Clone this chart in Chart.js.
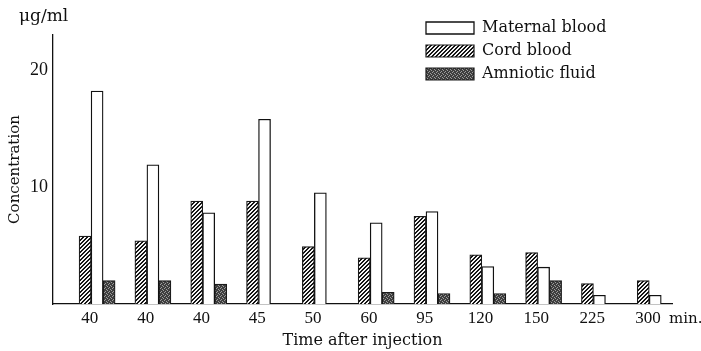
<!DOCTYPE html>
<html>
<head>
<meta charset="utf-8">
<script src="https://cdn.jsdelivr.net/npm/chart.js@4.4.1/dist/chart.umd.min.js"></script>
<style>
  html, body { margin: 0; padding: 0; background: #fff; }
</style>
</head>
<body>
<canvas id="barChart" width="701" height="351"></canvas>
<script>
// values, in µg/ml
const times = ['40', '40', '40', '45', '50', '60', '95', '120', '150', '225', '300'];
const cordBlood = [5.8, 5.4, 8.8, 8.8, 4.9, 3.95, 7.5, 4.2, 4.4, 1.75, 2.0];
const maternalBlood = [18.2, 11.9, 7.8, 15.8, 9.5, 6.95, 7.9, 3.2, 3.15, 0.75, 0.75];
const amnioticFluid = [2.0, 2.0, 1.7, null, null, 1.0, 0.9, 0.9, 2.0, null, null];
const yTicks = [10, 20];
const legendOrder = ['Maternal blood', 'Cord blood', 'Amniotic fluid'];

Chart.defaults.font.family = '"DejaVu Serif", serif';
Chart.defaults.color = '#111';

// small repeating tiles to imitate the printed hatching
function makePattern(size, bg, fg, pixels) {
    const c = document.createElement('canvas');
    c.width = size;
    c.height = size;
    const g = c.getContext('2d');
    g.fillStyle = bg;
    g.fillRect(0, 0, size, size);
    g.fillStyle = fg;
    pixels.forEach(([x, y]) => g.fillRect(x, y, 1, 1));
    return g.createPattern(c, 'repeat');
}

const hatch = makePattern(4, '#f4f4f4', '#151515',
    [[0, 3], [0, 0], [1, 2], [1, 3], [2, 1], [2, 2], [3, 0], [3, 1]]);
const speckle = makePattern(4, '#3e3e3e', '#9c9c9c',
    [[0, 0], [2, 1], [1, 3], [3, 2]]);

const toPoints = (arr) => arr.map((v, i) => ({ x: i, y: v }));

// extra labels + moves the vertical legend into the upper right corner
const extraText = {
    id: 'extraText',
    beforeDraw(chart) {
        const lg = chart.legend;
        const area = chart.chartArea;
        const w = lg.width, h = lg.height;
        lg.left = area.right - 253;
        lg.right = lg.left + w;
        lg.top = area.top - 22;
        lg.bottom = lg.top + h;
    },
    afterDraw(chart) {
        const { ctx, chartArea } = chart;
        ctx.save();
        ctx.fillStyle = '#111';
        ctx.textAlign = 'left';
        ctx.textBaseline = 'middle';
        ctx.font = '17px "DejaVu Serif"';
        ctx.fillText('μg/ml', chartArea.left - 34, chartArea.top - 18);
        ctx.font = '15px "DejaVu Serif"';
        ctx.fillText('min.', chartArea.right - 3, chartArea.bottom + 15);
        ctx.restore();
    }
};

const chart = new Chart(document.getElementById('barChart'), {
    type: 'bar',
    data: {
        datasets: [
            { label: 'Cord blood', data: toPoints(cordBlood), backgroundColor: hatch, borderColor: '#1a1a1a', borderWidth: 1.2 },
            { label: 'Maternal blood', data: toPoints(maternalBlood), backgroundColor: '#ffffff', borderColor: '#111', borderWidth: 1.3 },
            { label: 'Amniotic fluid', data: toPoints(amnioticFluid), backgroundColor: speckle, borderColor: '#1a1a1a', borderWidth: 1.2 }
        ]
    },
    options: {
        responsive: false,
        animation: false,
        datasets: { bar: { barThickness: 12 } },
        layout: { padding: { top: 35, right: 29, bottom: 0, left: 0 } },
        plugins: {
            tooltip: { enabled: false },
            legend: {
                position: 'chartArea',
                align: 'start',
                labels: {
                    boxWidth: 48,
                    boxHeight: 12,
                    padding: 7,
                    font: { size: 16 },
                    sort: (a, b) => legendOrder.indexOf(a.text) - legendOrder.indexOf(b.text)
                }
            }
        },
        scales: {
            x: {
                type: 'linear',
                min: -0.79,
                max: 10.3,
                bounds: 'data',
                offset: false,
                grid: { display: false, drawTicks: false },
                border: { color: '#111', width: 1.3 },
                afterBuildTicks: (scale) => {
                    // labels sit a little left of each group's middle bar
                    scale.ticks = times.map((t, i) => ({ value: i - 0.13 }));
                },
                afterFit: (scale) => { scale.height = 47; },
                ticks: {
                    autoSkip: false,
                    maxRotation: 0,
                    padding: 4,
                    font: { family: '"Liberation Serif", serif', size: 17 },
                    callback: (v, i) => times[i]
                },
                title: {
                    display: true,
                    text: 'Time after injection',
                    font: { size: 16 },
                    padding: { top: 0, bottom: 1 }
                }
            },
            y: {
                min: 0,
                max: 23,
                grid: { display: false, drawTicks: false },
                border: { color: '#111', width: 1.3 },
                afterBuildTicks: (scale) => {
                    scale.ticks = yTicks.map((v) => ({ value: v }));
                },
                afterFit: (scale) => { scale.width = 53; },
                ticks: {
                    padding: 5,
                    font: { family: '"Liberation Serif", serif', size: 18 }
                },
                title: {
                    display: true,
                    text: 'Concentration',
                    font: { size: 15 },
                    padding: { top: 6, bottom: 0 }
                }
            }
        }
    },
    plugins: [extraText]
});
</script>
</body>
</html>
